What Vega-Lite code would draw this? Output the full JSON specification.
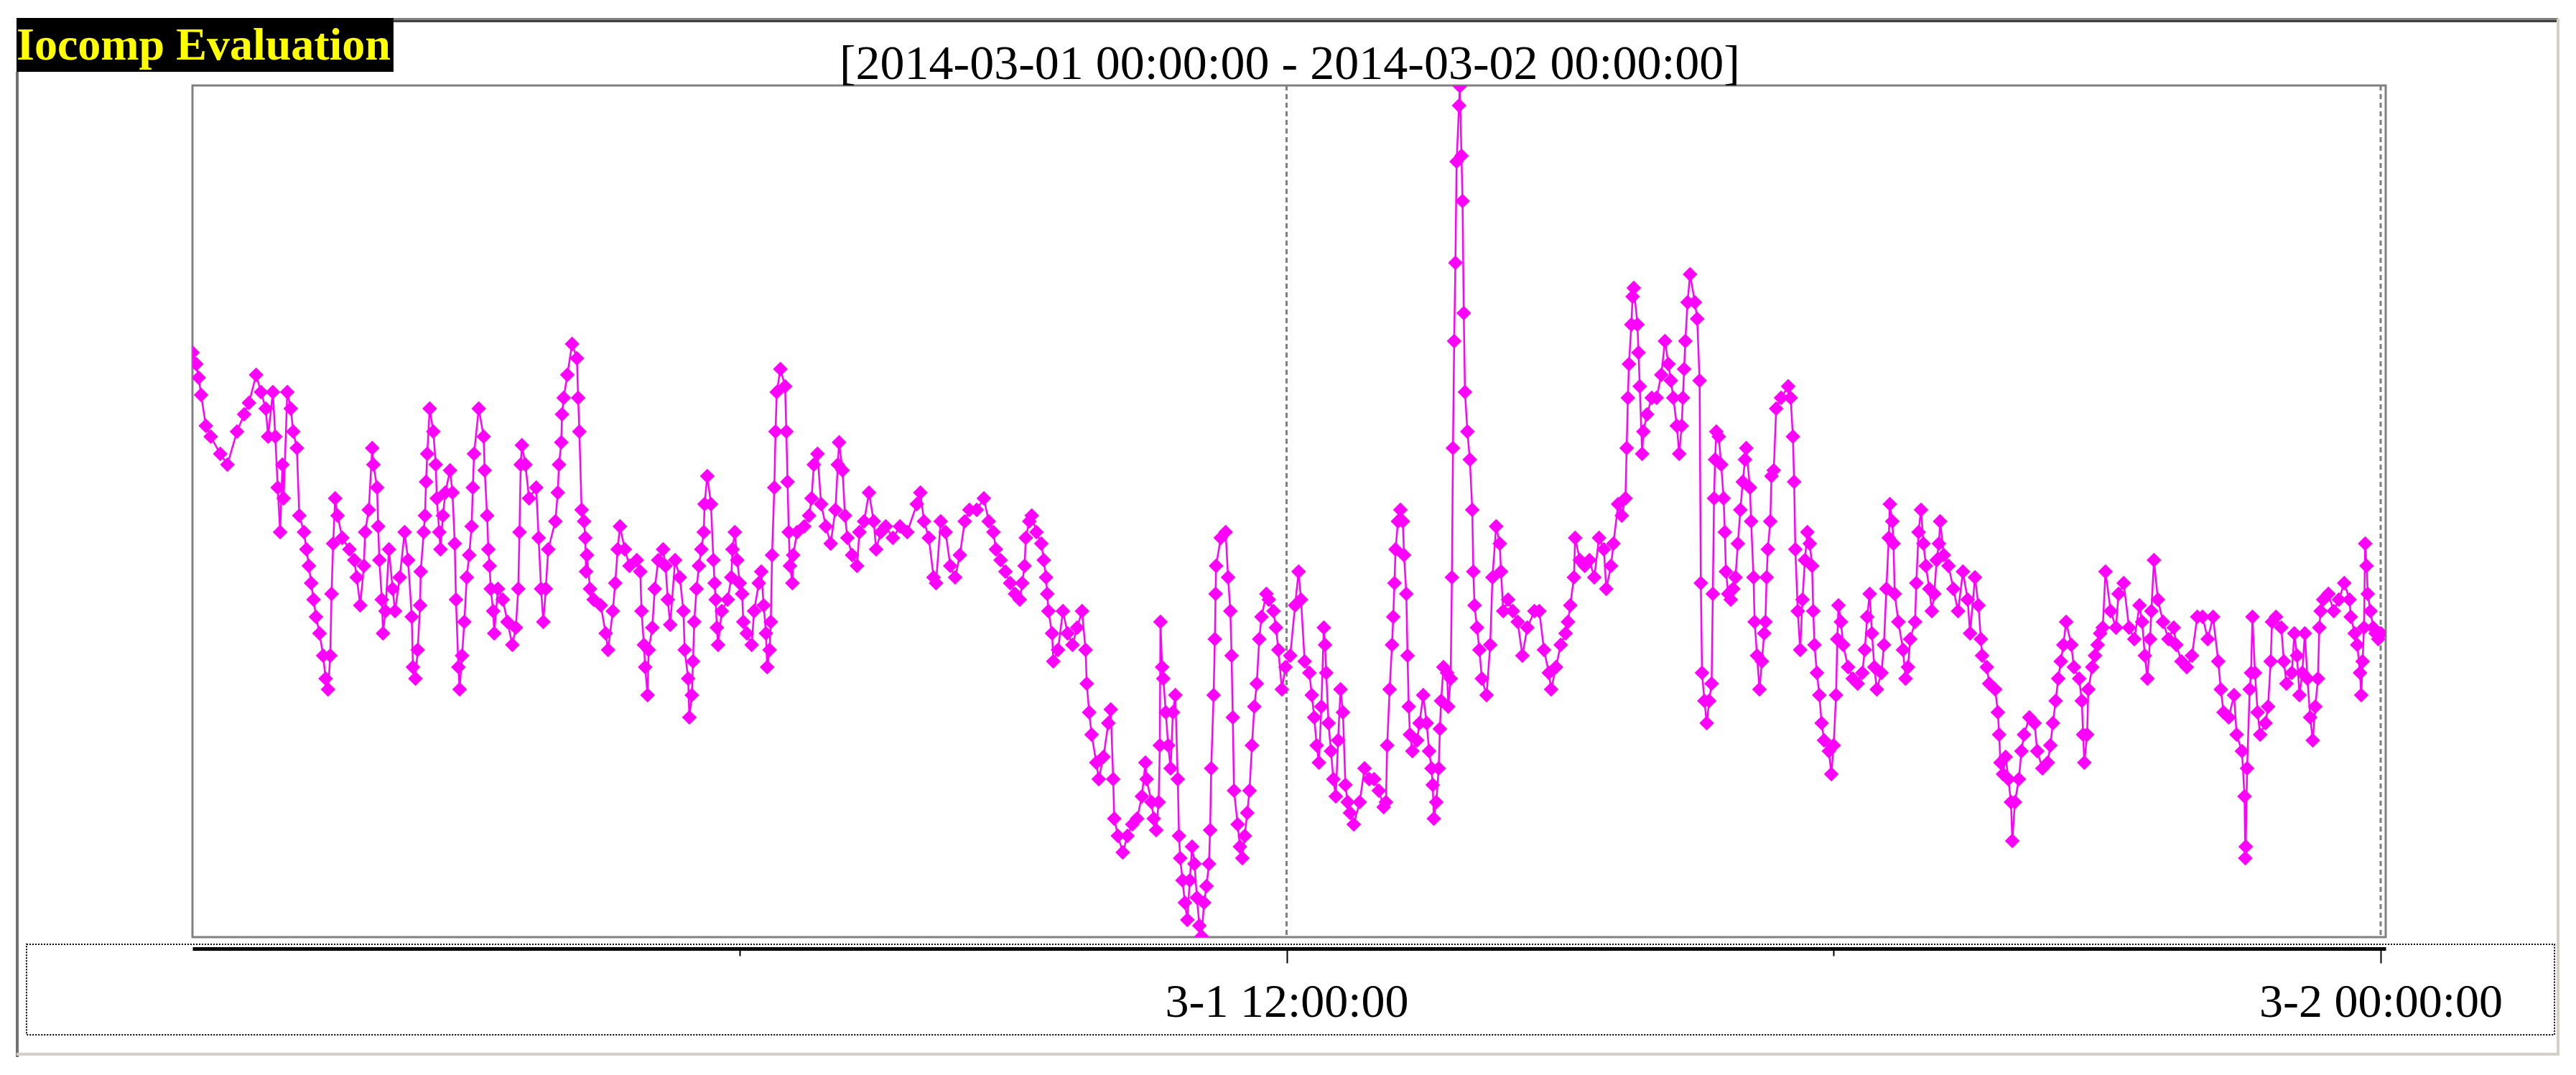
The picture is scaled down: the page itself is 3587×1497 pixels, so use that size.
{
  "$schema": "https://vega.github.io/schema/vega-lite/v6.json",
  "width": 3054,
  "height": 1186,
  "autosize": {"type": "none"},
  "padding": {"left": 268, "top": 119, "right": 265, "bottom": 192},
  "background": "#ffffff",
  "config": {"view": {"stroke": "#808080", "strokeWidth": 3, "fill": "#ffffff"}},
  "resolve": {"axis": {"x": "independent"}},
  "datasets": {
    "series": [
{"minute":0,"value":814},{"minute":2.5,"value":798},{"minute":4.1,"value":779},{"minute":5.7,"value":755},{"minute":8.8,"value":712},{"minute":12,"value":697},{"minute":18.3,"value":673},{"minute":23,"value":658},{"minute":29.3,"value":704},{"minute":34,"value":728},{"minute":37.2,"value":744},{"minute":41.9,"value":783},{"minute":45.1,"value":759},{"minute":48.2,"value":736},{"minute":49.8,"value":697},{"minute":52.9,"value":759},{"minute":54.5,"value":697},{"minute":56.1,"value":626},{"minute":57.7,"value":564},{"minute":59.2,"value":658},{"minute":60,"value":611},{"minute":62.4,"value":759},{"minute":64.7,"value":736},{"minute":66.3,"value":704},{"minute":68.7,"value":681},{"minute":70.3,"value":587},{"minute":73.4,"value":564},{"minute":75,"value":540},{"minute":76.6,"value":517},{"minute":78.1,"value":493},{"minute":79.7,"value":470},{"minute":81.3,"value":446},{"minute":83.6,"value":423},{"minute":86,"value":392},{"minute":87.6,"value":360},{"minute":89.2,"value":345},{"minute":90.7,"value":392},{"minute":91.5,"value":478},{"minute":92.6,"value":548},{"minute":93.9,"value":611},{"minute":95.5,"value":587},{"minute":98.6,"value":556},{"minute":103.3,"value":540},{"minute":106.5,"value":525},{"minute":108.1,"value":501},{"minute":110.4,"value":462},{"minute":112.8,"value":517},{"minute":113.6,"value":564},{"minute":116,"value":595},{"minute":118.3,"value":681},{"minute":119.1,"value":658},{"minute":121.5,"value":626},{"minute":122.2,"value":572},{"minute":123,"value":525},{"minute":124.6,"value":470},{"minute":125.4,"value":423},{"minute":127,"value":454},{"minute":129.3,"value":540},{"minute":131.7,"value":485},{"minute":133.3,"value":454},{"minute":136.4,"value":501},{"minute":139.6,"value":564},{"minute":141.9,"value":525},{"minute":144.3,"value":446},{"minute":145.1,"value":376},{"minute":146.7,"value":360},{"minute":148.2,"value":400},{"minute":149.8,"value":462},{"minute":150.2,"value":509},{"minute":152.2,"value":564},{"minute":153,"value":587},{"minute":153.7,"value":634},{"minute":154.5,"value":673},{"minute":156.1,"value":736},{"minute":158.5,"value":704},{"minute":160.1,"value":658},{"minute":160.8,"value":611},{"minute":162.4,"value":564},{"minute":163.2,"value":540},{"minute":164.8,"value":587},{"minute":166.4,"value":619},{"minute":169.5,"value":650},{"minute":171.1,"value":619},{"minute":172.6,"value":548},{"minute":173.4,"value":470},{"minute":175,"value":376},{"minute":175.8,"value":345},{"minute":177.4,"value":392},{"minute":178.9,"value":439},{"minute":180.5,"value":501},{"minute":182.1,"value":532},{"minute":183.7,"value":572},{"minute":184.5,"value":626},{"minute":185.3,"value":673},{"minute":188.4,"value":736},{"minute":191.6,"value":697},{"minute":192.3,"value":650},{"minute":193.9,"value":587},{"minute":194.7,"value":540},{"minute":195.5,"value":517},{"minute":196.3,"value":485},{"minute":197.9,"value":454},{"minute":198.6,"value":423},{"minute":201,"value":485},{"minute":204.2,"value":470},{"minute":207.3,"value":439},{"minute":210.5,"value":407},{"minute":212.8,"value":431},{"minute":214.4,"value":485},{"minute":215.2,"value":564},{"minute":216,"value":658},{"minute":216.8,"value":685},{"minute":219.1,"value":658},{"minute":221.5,"value":611},{"minute":226.2,"value":626},{"minute":227.8,"value":556},{"minute":229.4,"value":485},{"minute":230.9,"value":439},{"minute":232.5,"value":485},{"minute":234.1,"value":540},
{"minute":238.8,"value":579},{"minute":240.4,"value":619},{"minute":241.2,"value":658},{"minute":242.7,"value":689},{"minute":243.2,"value":728},{"minute":244.3,"value":751},{"minute":246.7,"value":783},{"minute":249.8,"value":826},{"minute":253,"value":806},{"minute":253.8,"value":751},{"minute":254.6,"value":704},{"minute":256.1,"value":595},{"minute":257.7,"value":579},{"minute":258.5,"value":556},{"minute":259,"value":509},{"minute":259.6,"value":532},{"minute":261.6,"value":485},{"minute":264,"value":470},{"minute":268.7,"value":462},{"minute":271.9,"value":423},{"minute":273.5,"value":400},{"minute":276.6,"value":454},{"minute":278.2,"value":493},{"minute":279.8,"value":540},{"minute":281.3,"value":572},{"minute":284.5,"value":540},{"minute":287.6,"value":517},{"minute":292.4,"value":525},{"minute":294.7,"value":509},{"minute":295.5,"value":454},{"minute":297.1,"value":407},{"minute":297.9,"value":376},{"minute":299.5,"value":337},{"minute":300.2,"value":400},{"minute":302.6,"value":431},{"minute":304.2,"value":485},{"minute":306.5,"value":525},{"minute":309.7,"value":540},{"minute":311.3,"value":517},{"minute":312.8,"value":470},{"minute":314.4,"value":435},{"minute":317.6,"value":525},{"minute":320.7,"value":501},{"minute":323.1,"value":454},{"minute":323.9,"value":400},{"minute":326.2,"value":360},{"minute":327,"value":306},{"minute":328.6,"value":337},{"minute":329.4,"value":384},{"minute":330.2,"value":439},{"minute":331.7,"value":485},{"minute":333.3,"value":517},{"minute":334.9,"value":540},{"minute":336.5,"value":564},{"minute":337,"value":603},{"minute":338.8,"value":642},{"minute":341.2,"value":603},{"minute":342.8,"value":525},{"minute":343.6,"value":493},{"minute":344.3,"value":470},{"minute":345.1,"value":431},{"minute":345.9,"value":407},{"minute":348.3,"value":454},{"minute":352.2,"value":470},{"minute":354.6,"value":501},{"minute":355.4,"value":540},{"minute":356.9,"value":564},{"minute":358.5,"value":525},{"minute":360.1,"value":493},{"minute":361.7,"value":478},{"minute":362.5,"value":439},{"minute":364.8,"value":423},{"minute":368,"value":407},{"minute":369.6,"value":454},{"minute":372.7,"value":493},{"minute":374.3,"value":509},{"minute":375.9,"value":462},{"minute":377.4,"value":423},{"minute":378.2,"value":376},{"minute":379.8,"value":400},{"minute":380.6,"value":439},{"minute":381.4,"value":532},{"minute":382.9,"value":626},{"minute":383.7,"value":704},{"minute":384.5,"value":759},{"minute":386.9,"value":791},{"minute":390,"value":767},{"minute":390.8,"value":704},{"minute":391.6,"value":634},{"minute":392.4,"value":564},{"minute":393.2,"value":517},{"minute":394.8,"value":493},{"minute":395.3,"value":532},{"minute":397.9,"value":564},{"minute":402.6,"value":572},{"minute":405.8,"value":587},{"minute":407.4,"value":611},{"minute":408.9,"value":658},{"minute":411.3,"value":673},{"minute":413.7,"value":603},{"minute":416.8,"value":572},{"minute":420,"value":548},{"minute":423.1,"value":595},{"minute":424.7,"value":658},{"minute":425.5,"value":689},{"minute":427.8,"value":650},{"minute":429.4,"value":587},{"minute":431,"value":556},{"minute":434.1,"value":532},{"minute":437.3,"value":517},{"minute":438.9,"value":564},{"minute":442,"value":579},{"minute":445.2,"value":619},{"minute":448.3,"value":579},{"minute":449.9,"value":540},{"minute":453,"value":564},{"minute":456.2,"value":572},{"minute":460.9,"value":556},{"minute":465.6,"value":572},{"minute":470.4,"value":564},
{"minute":476.7,"value":603},{"minute":479,"value":619},{"minute":481.4,"value":579},{"minute":484.6,"value":556},{"minute":487.7,"value":501},{"minute":489.3,"value":493},{"minute":492.4,"value":579},{"minute":495.6,"value":564},{"minute":498.7,"value":517},{"minute":501.9,"value":501},{"minute":505,"value":532},{"minute":508.2,"value":579},{"minute":511.3,"value":595},{"minute":516.1,"value":595},{"minute":520.8,"value":611},{"minute":524,"value":579},{"minute":527.1,"value":564},{"minute":528.7,"value":540},{"minute":531.8,"value":525},{"minute":535,"value":509},{"minute":538.1,"value":493},{"minute":541.3,"value":478},{"minute":544.4,"value":470},{"minute":546,"value":493},{"minute":547.6,"value":517},{"minute":548.4,"value":556},{"minute":550.7,"value":579},{"minute":552.3,"value":587},{"minute":555.4,"value":564},{"minute":558.6,"value":548},{"minute":560.2,"value":525},{"minute":561.7,"value":501},{"minute":562.5,"value":478},{"minute":563.3,"value":454},{"minute":565.7,"value":423},{"minute":566.5,"value":384},{"minute":569.6,"value":400},{"minute":572.8,"value":454},{"minute":575.9,"value":423},{"minute":579.1,"value":407},{"minute":582.2,"value":431},{"minute":585.4,"value":454},{"minute":587.7,"value":400},{"minute":588.5,"value":353},{"minute":590.1,"value":313},{"minute":591.7,"value":282},{"minute":594.8,"value":243},{"minute":596.4,"value":220},{"minute":599.5,"value":251},{"minute":602.7,"value":298},{"minute":604.3,"value":317},{"minute":605.9,"value":220},{"minute":606.6,"value":165},{"minute":609,"value":141},{"minute":612.2,"value":118},{"minute":615.3,"value":141},{"minute":618.5,"value":157},{"minute":621.6,"value":165},{"minute":624.8,"value":196},{"minute":627.1,"value":243},{"minute":627.9,"value":220},{"minute":631.1,"value":188},{"minute":632.6,"value":165},{"minute":634.2,"value":149},{"minute":635.8,"value":188},{"minute":636.6,"value":267},{"minute":637,"value":439},{"minute":638.1,"value":376},{"minute":638.9,"value":360},{"minute":640.5,"value":313},{"minute":642.1,"value":267},{"minute":643.7,"value":235},{"minute":645.2,"value":313},{"minute":646.8,"value":337},{"minute":648.4,"value":220},{"minute":649.2,"value":141},{"minute":650,"value":110},{"minute":651.5,"value":79},{"minute":653.1,"value":48},{"minute":654.7,"value":24},{"minute":656.3,"value":79},{"minute":657.8,"value":126},{"minute":659.4,"value":102},{"minute":661,"value":55},{"minute":662.6,"value":16},{"minute":664.1,"value":1},{"minute":665.7,"value":48},{"minute":667.3,"value":71},{"minute":668.9,"value":102},{"minute":669.7,"value":149},{"minute":670.4,"value":235},{"minute":672,"value":337},{"minute":672.8,"value":415},{"minute":673.3,"value":478},{"minute":673.6,"value":517},{"minute":676.7,"value":556},{"minute":679.9,"value":564},{"minute":681.5,"value":501},{"minute":683,"value":454},{"minute":683.8,"value":392},{"minute":684.6,"value":306},{"minute":685.4,"value":204},{"minute":687.8,"value":157},{"minute":689.3,"value":126},{"minute":690.9,"value":110},{"minute":692.5,"value":141},{"minute":694.1,"value":173},{"minute":695.6,"value":204},{"minute":697.2,"value":267},{"minute":698.8,"value":321},{"minute":700.4,"value":353},{"minute":702,"value":415},{"minute":703.5,"value":446},{"minute":706.7,"value":478},{"minute":708.3,"value":470},{"minute":711.4,"value":454},
{"minute":713,"value":431},{"minute":714.6,"value":400},{"minute":716.9,"value":345},{"minute":719.3,"value":376},{"minute":722.4,"value":392},{"minute":725.6,"value":462},{"minute":727.9,"value":509},{"minute":729.5,"value":470},{"minute":731.9,"value":384},{"minute":735,"value":368},{"minute":736.6,"value":337},{"minute":738.2,"value":306},{"minute":739.8,"value":267},{"minute":741.3,"value":243},{"minute":742.9,"value":321},{"minute":744.5,"value":431},{"minute":745.3,"value":407},{"minute":746.1,"value":368},{"minute":747.6,"value":298},{"minute":749.2,"value":259},{"minute":750.8,"value":220},{"minute":752.4,"value":196},{"minute":753.9,"value":274},{"minute":755.5,"value":345},{"minute":757.1,"value":313},{"minute":758.7,"value":212},{"minute":760.2,"value":188},{"minute":761.8,"value":173},{"minute":764.2,"value":157},{"minute":768.1,"value":188},{"minute":771.3,"value":235},{"minute":774.4,"value":220},{"minute":777.6,"value":220},{"minute":780.7,"value":204},{"minute":783.9,"value":181},{"minute":785.4,"value":188},{"minute":786.2,"value":267},{"minute":787.8,"value":345},{"minute":789.4,"value":407},{"minute":790.2,"value":446},{"minute":791,"value":493},{"minute":791.7,"value":540},{"minute":793.3,"value":579},{"minute":794.9,"value":595},{"minute":796.5,"value":579},{"minute":797.3,"value":532},{"minute":798.8,"value":478},{"minute":799.6,"value":392},{"minute":800.4,"value":321},{"minute":801.2,"value":282},{"minute":802.8,"value":259},{"minute":805.9,"value":274},{"minute":807.5,"value":298},{"minute":809.9,"value":337},{"minute":812.2,"value":298},{"minute":813.8,"value":259},{"minute":815.4,"value":235},{"minute":816.2,"value":212},{"minute":816.9,"value":165},{"minute":818.5,"value":188},{"minute":820.1,"value":235},{"minute":820.9,"value":290},{"minute":821.7,"value":329},{"minute":823.2,"value":376},{"minute":825.6,"value":368},{"minute":826.4,"value":321},{"minute":828,"value":360},{"minute":828.8,"value":501},{"minute":829.5,"value":681},{"minute":830.3,"value":830},{"minute":831.1,"value":939},{"minute":831.9,"value":1080},{"minute":833.5,"value":1158},{"minute":834,"value":1185},{"minute":835.1,"value":1088},{"minute":835.8,"value":1025},{"minute":836.6,"value":869},{"minute":837.4,"value":759},{"minute":839,"value":704},{"minute":840.6,"value":665},{"minute":842.2,"value":595},{"minute":842.9,"value":509},{"minute":843.7,"value":462},{"minute":845.3,"value":431},{"minute":846.9,"value":400},{"minute":848.5,"value":360},{"minute":851.6,"value":337},{"minute":854,"value":407},{"minute":855.5,"value":501},{"minute":857.9,"value":572},{"minute":860.3,"value":548},{"minute":861.1,"value":509},{"minute":862.6,"value":454},{"minute":865.8,"value":470},{"minute":868.9,"value":454},{"minute":872.1,"value":439},{"minute":875.2,"value":392},{"minute":878.4,"value":431},{"minute":883.1,"value":454},{"minute":886.3,"value":454},{"minute":889.4,"value":400},{"minute":892.6,"value":368},{"minute":894.1,"value":345},{"minute":897.3,"value":376},{"minute":900.4,"value":407},{"minute":903.6,"value":423},{"minute":905.2,"value":439},{"minute":906.7,"value":462},{"minute":909.1,"value":501},{"minute":909.9,"value":556},{"minute":913,"value":525},{"minute":916.2,"value":517},{"minute":919.3,"value":525},{"minute":922.5,"value":501},{"minute":925.6,"value":556},{"minute":928.8,"value":540},{"minute":930.4,"value":485},{"minute":933.5,"value":517},{"minute":935.1,"value":548},{"minute":938.2,"value":603},{"minute":940.6,"value":587},
{"minute":943,"value":611},{"minute":943.8,"value":681},{"minute":944.6,"value":751},{"minute":945.3,"value":798},{"minute":946.9,"value":853},{"minute":947.7,"value":892},{"minute":948.5,"value":904},{"minute":950.9,"value":853},{"minute":951.6,"value":814},{"minute":952.4,"value":767},{"minute":954,"value":673},{"minute":954.8,"value":704},{"minute":957.2,"value":728},{"minute":960.3,"value":751},{"minute":963.5,"value":751},{"minute":966.6,"value":783},{"minute":969,"value":830},{"minute":971.3,"value":798},{"minute":972.9,"value":775},{"minute":974.5,"value":751},{"minute":976.8,"value":712},{"minute":978.4,"value":673},{"minute":980,"value":712},{"minute":980.8,"value":751},{"minute":981.6,"value":791},{"minute":982.4,"value":830},{"minute":983.9,"value":884},{"minute":985.5,"value":923},{"minute":988.7,"value":884},{"minute":990.2,"value":861},{"minute":991.8,"value":775},{"minute":992.6,"value":493},{"minute":993.4,"value":368},{"minute":995,"value":329},{"minute":996.5,"value":298},{"minute":998.1,"value":329},{"minute":999.7,"value":353},{"minute":1000.5,"value":478},{"minute":1001.3,"value":611},{"minute":1002,"value":665},{"minute":1002.8,"value":704},{"minute":1004.4,"value":697},{"minute":1006,"value":658},{"minute":1007.6,"value":611},{"minute":1008.4,"value":564},{"minute":1009.1,"value":509},{"minute":1010.7,"value":478},{"minute":1012.3,"value":470},{"minute":1013.9,"value":485},{"minute":1015.4,"value":501},{"minute":1017,"value":548},{"minute":1018.6,"value":595},{"minute":1020.2,"value":634},{"minute":1021.7,"value":665},{"minute":1022.5,"value":681},{"minute":1024.9,"value":626},{"minute":1025.7,"value":579},{"minute":1027.3,"value":501},{"minute":1028,"value":439},{"minute":1029.6,"value":392},{"minute":1031.2,"value":345},{"minute":1032.8,"value":384},{"minute":1034.3,"value":423},{"minute":1035.1,"value":439},{"minute":1035.9,"value":501},{"minute":1036.7,"value":540},{"minute":1038.3,"value":579},{"minute":1039.1,"value":642},{"minute":1040.6,"value":650},{"minute":1042.2,"value":736},{"minute":1045.4,"value":751},{"minute":1050.1,"value":767},{"minute":1051.7,"value":751},{"minute":1053.2,"value":697},{"minute":1054,"value":634},{"minute":1054.8,"value":540},{"minute":1056.4,"value":454},{"minute":1058,"value":400},{"minute":1059.5,"value":470},{"minute":1061.1,"value":525},{"minute":1062.7,"value":564},{"minute":1064.3,"value":548},{"minute":1065.8,"value":517},{"minute":1066.6,"value":454},{"minute":1067.4,"value":407},{"minute":1069,"value":368},{"minute":1070.6,"value":337},{"minute":1072.1,"value":298},{"minute":1073.7,"value":274},{"minute":1076.9,"value":259},{"minute":1078.5,"value":227},{"minute":1080,"value":267},{"minute":1081.6,"value":337},{"minute":1082.4,"value":415},{"minute":1083.2,"value":462},{"minute":1084.8,"value":439},{"minute":1086.3,"value":407},{"minute":1089.5,"value":376},{"minute":1092.6,"value":360},{"minute":1095.8,"value":353},{"minute":1098.9,"value":368},{"minute":1100.5,"value":400},{"minute":1102.1,"value":446},{"minute":1103.7,"value":478},{"minute":1105.2,"value":423},{"minute":1106.8,"value":376},{"minute":1108.4,"value":345},{"minute":1111.5,"value":368},{"minute":1113.1,"value":407},{"minute":1114.7,"value":485},{"minute":1116.3,"value":556},{"minute":1117,"value":603},{"minute":1118.6,"value":579},{"minute":1119.4,"value":548},{"minute":1120.2,"value":478},{"minute":1122.6,"value":439},{"minute":1125.7,"value":400},{"minute":1127.3,"value":360},{"minute":1128.9,"value":376},{"minute":1130.4,"value":415},{"minute":1133.6,"value":439},{"minute":1134.4,"value":493},{"minute":1135.9,"value":564},{"minute":1137.5,"value":595},{"minute":1139.1,"value":548},{"minute":1140.7,"value":517},{"minute":1143,"value":485},{"minute":1144.6,"value":454},{"minute":1146.2,"value":478},{"minute":1147.8,"value":525},{"minute":1149.3,"value":548},{"minute":1150.1,"value":579},{"minute":1152.5,"value":532},{"minute":1155.6,"value":517},{"minute":1158.8,"value":485},{"minute":1161.9,"value":454},{"minute":1165.1,"value":509},{"minute":1168.2,"value":470},{"minute":1169.8,"value":423},{"minute":1173,"value":501},{"minute":1175.3,"value":462},{"minute":1176.9,"value":415},{"minute":1177.7,"value":392},{"minute":1180.8,"value":376},{"minute":1182.4,"value":353},
{"minute":1186.3,"value":345},{"minute":1188.1,"value":313},{"minute":1188.9,"value":282},{"minute":1189.8,"value":243},{"minute":1191.5,"value":227},{"minute":1193.2,"value":251},{"minute":1195,"value":220},{"minute":1196.7,"value":188},{"minute":1197.6,"value":134},{"minute":1199.3,"value":188},{"minute":1201.9,"value":220},{"minute":1203.6,"value":259},{"minute":1205.3,"value":282},{"minute":1208.8,"value":306},{"minute":1212.2,"value":298},{"minute":1214,"value":259},{"minute":1217.4,"value":235},{"minute":1220.9,"value":243},{"minute":1222.6,"value":267},{"minute":1224.3,"value":298},{"minute":1226.1,"value":329},{"minute":1227.8,"value":360},{"minute":1229.5,"value":384},{"minute":1231.2,"value":407},{"minute":1233,"value":439},{"minute":1236.4,"value":407},{"minute":1238.1,"value":376},{"minute":1241.6,"value":360},{"minute":1243.3,"value":329},{"minute":1244.2,"value":282},{"minute":1245,"value":243},{"minute":1246.8,"value":282},{"minute":1247.6,"value":345},{"minute":1250.2,"value":376},{"minute":1252,"value":392},{"minute":1253.7,"value":407},{"minute":1255.4,"value":423},{"minute":1257.1,"value":431},{"minute":1258.9,"value":509},{"minute":1262.3,"value":454},{"minute":1265.8,"value":431},{"minute":1267.5,"value":478},{"minute":1270.9,"value":493},{"minute":1274.4,"value":431},{"minute":1277.9,"value":415},{"minute":1281.3,"value":462},{"minute":1283,"value":439},{"minute":1284.8,"value":392},{"minute":1286.5,"value":360},{"minute":1288.2,"value":415},{"minute":1289.1,"value":454},{"minute":1290.8,"value":525},{"minute":1293.4,"value":470},{"minute":1296.8,"value":439},{"minute":1300.3,"value":415},{"minute":1303.8,"value":431},{"minute":1305.5,"value":407},{"minute":1308.9,"value":384},{"minute":1312.4,"value":376},{"minute":1315.8,"value":392},{"minute":1319.3,"value":446},{"minute":1322.8,"value":446},{"minute":1326.2,"value":415},{"minute":1329.7,"value":446},{"minute":1333.1,"value":384},{"minute":1334.8,"value":345},{"minute":1336.6,"value":313},{"minute":1340,"value":306},{"minute":1343.5,"value":337},{"minute":1345.2,"value":282},{"minute":1348.7,"value":259},{"minute":1350.4,"value":196},{"minute":1350.9,"value":110},{"minute":1351.2,"value":126},{"minute":1352.1,"value":235},{"minute":1353.8,"value":345},{"minute":1354.7,"value":368},{"minute":1355.6,"value":446},{"minute":1357.3,"value":368},{"minute":1359,"value":313},{"minute":1360.7,"value":282},{"minute":1364.2,"value":298},{"minute":1365.9,"value":321},{"minute":1367.6,"value":384},{"minute":1368.5,"value":439},{"minute":1371.1,"value":446},{"minute":1374.6,"value":431},{"minute":1376.3,"value":384},{"minute":1378,"value":353},{"minute":1381.5,"value":368},{"minute":1383.2,"value":423},{"minute":1384.9,"value":392},{"minute":1386.6,"value":337},{"minute":1388.4,"value":368},{"minute":1390.1,"value":423},{"minute":1391.8,"value":360},{"minute":1393.6,"value":306},{"minute":1395.3,"value":274},{"minute":1397,"value":321},{"minute":1398.7,"value":360},{"minute":1399.6,"value":431},{"minute":1400.5,"value":454},{"minute":1402.2,"value":470},{"minute":1405.6,"value":478},{"minute":1409.1,"value":454},{"minute":1412.5,"value":470},{"minute":1416,"value":493},{"minute":1419.5,"value":470},{"minute":1420.3,"value":446},{"minute":1422.9,"value":423},{"minute":1424.6,"value":407},{"minute":1426.4,"value":368},{"minute":1427.2,"value":337},{"minute":1428.1,"value":384},{"minute":1429,"value":431},{"minute":1429.8,"value":548},{"minute":1430.7,"value":517},{"minute":1431.5,"value":478},{"minute":1433.3,"value":454},{"minute":1435,"value":431},{"minute":1436.7,"value":423},{"minute":1438.4,"value":415},{"minute":1440.2,"value":423}
    ]
  },
  "layer": [
    {
      "data": {"values": [{}]},
      "mark": {"type": "rect", "fill": "#ffffff", "fillOpacity": 0, "stroke": "#000000", "strokeWidth": 2, "strokeDash": [2, 2]},
      "encoding": {
        "x": {"datum": -109.2, "type": "quantitative", "scale": {"domain": [0, 1443.3], "nice": false, "zero": false}, "axis": null},
        "x2": {"datum": 1554.4},
        "y": {"datum": -10, "type": "quantitative", "scale": {"domain": [0, 1186], "nice": false, "zero": false}, "axis": null},
        "y2": {"datum": -136}
      }
    },
    {
      "data": {"values": [{}]},
      "mark": {"type": "rule", "color": "#808080", "strokeWidth": 3, "strokeDash": [7, 5]},
      "encoding": {"x": {"datum": 720, "type": "quantitative", "axis": null}}
    },
    {
      "data": {"values": [{}]},
      "mark": {"type": "rule", "color": "#808080", "strokeWidth": 3, "strokeDash": [7, 5]},
      "encoding": {"x": {"datum": 1440, "type": "quantitative", "axis": null}}
    },
    {
      "data": {"name": "series"},
      "mark": {"type": "line", "color": "#ff00ff", "strokeWidth": 2.5, "clip": true},
      "encoding": {
        "x": {"field": "minute", "type": "quantitative", "scale": {"domain": [0, 1443.3], "nice": false, "zero": false},
          "axis": {"orient": "bottom", "values": [720, 1440], "offset": 16, "domain": true, "domainColor": "#000000", "domainWidth": 5, "ticks": true, "tickColor": "#000000", "tickWidth": 2, "tickSize": 20,
            "labelExpr": "datum.value === 720 ? '3-1 12:00:00' : '3-2 00:00:00'",
            "labelFont": "Liberation Serif", "labelFontSize": 66, "labelColor": "#000000", "labelPadding": 22, "labelLimit": 1000, "labelFlush": false, "labelOverlap": false, "labelBound": false, "grid": false, "title": null}},
        "y": {"field": "value", "type": "quantitative", "scale": {"domain": [0, 1186], "nice": false, "zero": false}, "axis": null}
      }
    },
    {
      "data": {"name": "series"},
      "mark": {"type": "point", "shape": "diamond", "filled": true, "size": 420, "color": "#ff00ff", "opacity": 1, "clip": true},
      "encoding": {
        "x": {"field": "minute", "type": "quantitative", "scale": {"domain": [0, 1443.3], "nice": false, "zero": false},
          "axis": {"orient": "bottom", "values": [360, 1080], "offset": 16, "domain": false, "ticks": true, "tickColor": "#000000", "tickWidth": 2, "tickSize": 10, "labels": false, "grid": false, "title": null}},
        "y": {"field": "value", "type": "quantitative", "scale": {"domain": [0, 1186], "nice": false, "zero": false}, "axis": null}
      }
    },
    {
      "data": {"values": [{}]},
      "mark": {"type": "rule", "color": "#808080", "strokeWidth": 3},
      "encoding": {"x": {"datum": 132.3, "type": "quantitative", "axis": null}, "x2": {"datum": 1556.7}, "y": {"datum": 1278.5, "type": "quantitative", "axis": null}}
    },
    {
      "data": {"values": [{}]},
      "mark": {"type": "rule", "color": "#404040", "strokeWidth": 3},
      "encoding": {"x": {"datum": 132.3, "type": "quantitative", "axis": null}, "x2": {"datum": 1556.7}, "y": {"datum": 1275.5, "type": "quantitative", "axis": null}}
    },
    {
      "data": {"values": [{}]},
      "mark": {"type": "rule", "color": "#707070", "strokeWidth": 4},
      "encoding": {"x": {"datum": -115.3, "type": "quantitative", "axis": null}, "y": {"datum": 1205, "type": "quantitative", "axis": null}, "y2": {"datum": -167}}
    },
    {
      "data": {"values": [{}]},
      "mark": {"type": "rule", "color": "#d4d0c8", "strokeWidth": 4},
      "encoding": {"x": {"datum": -115.8, "type": "quantitative", "axis": null}, "x2": {"datum": 1557.7}, "y": {"datum": -163, "type": "quantitative", "axis": null}}
    },
    {
      "data": {"values": [{}]},
      "mark": {"type": "rule", "color": "#d4d0c8", "strokeWidth": 4},
      "encoding": {"x": {"datum": 1556.7, "type": "quantitative", "axis": null}, "y": {"datum": 1279, "type": "quantitative", "axis": null}, "y2": {"datum": -165}}
    },
    {
      "data": {"values": [{}]},
      "mark": {"type": "rect", "fill": "#000000"},
      "encoding": {"x": {"datum": -115.8, "type": "quantitative", "axis": null}, "x2": {"datum": 132.3}, "y": {"datum": 1205, "type": "quantitative", "axis": null}, "y2": {"datum": 1280}}
    },
    {
      "data": {"values": [{}]},
      "mark": {"type": "text", "text": "Iocomp Evaluation", "align": "left", "baseline": "alphabetic", "font": "Liberation Serif", "fontWeight": "bold", "fontSize": 64, "color": "#ffff00"},
      "encoding": {"x": {"datum": -115.8, "type": "quantitative", "axis": null}, "y": {"datum": 1222, "type": "quantitative", "axis": null}}
    },
    {
      "data": {"values": [{}]},
      "mark": {"type": "text", "text": "[2014-03-01 00:00:00 - 2014-03-02 00:00:00]", "align": "center", "baseline": "alphabetic", "font": "Liberation Serif", "fontSize": 68, "color": "#000000"},
      "encoding": {"x": {"datum": 722.1, "type": "quantitative", "axis": null}, "y": {"datum": 1195, "type": "quantitative", "axis": null}}
    }
  ]
}
